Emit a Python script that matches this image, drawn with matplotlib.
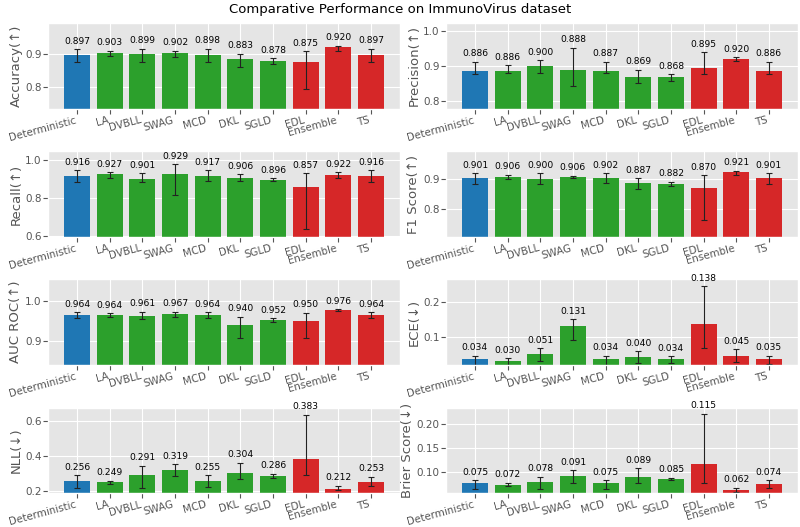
import numpy as np
import matplotlib
matplotlib.use("Agg")
import matplotlib.pyplot as plt
from matplotlib.ticker import MultipleLocator

plt.style.use('ggplot')

metodos = ['Deterministic', 'LA', 'DVBLL', 'SWAG', 'MCD', 'DKL', 'SGLD', 'EDL', 'Ensemble', 'TS']
colores = ['tab:blue'] + ['tab:green'] * 6 + ['tab:red'] * 3

# medias y extremos de las barras de error (abajo / arriba)
acc = [0.897, 0.903, 0.899, 0.902, 0.898, 0.883, 0.878, 0.875, 0.920, 0.897]
acc_lo = [0.876, 0.894, 0.876, 0.890, 0.876, 0.860, 0.870, 0.792, 0.910, 0.876]
acc_hi = [0.914, 0.910, 0.915, 0.910, 0.915, 0.900, 0.886, 0.908, 0.925, 0.915]

prec = [0.886, 0.886, 0.900, 0.888, 0.887, 0.869, 0.868, 0.895, 0.920, 0.886]
prec_lo = [0.878, 0.881, 0.881, 0.843, 0.880, 0.852, 0.857, 0.878, 0.914, 0.878]
prec_hi = [0.912, 0.903, 0.917, 0.952, 0.912, 0.889, 0.877, 0.940, 0.925, 0.912]

rec = [0.916, 0.927, 0.901, 0.929, 0.917, 0.906, 0.896, 0.857, 0.922, 0.916]
rec_lo = [0.886, 0.907, 0.884, 0.819, 0.889, 0.889, 0.889, 0.639, 0.904, 0.886]
rec_hi = [0.947, 0.937, 0.930, 0.979, 0.947, 0.925, 0.905, 0.930, 0.935, 0.947]

f1 = [0.901, 0.906, 0.900, 0.906, 0.902, 0.887, 0.882, 0.870, 0.921, 0.901]
f1_lo = [0.883, 0.900, 0.883, 0.903, 0.885, 0.867, 0.876, 0.762, 0.911, 0.883]
f1_hi = [0.918, 0.914, 0.918, 0.910, 0.918, 0.902, 0.890, 0.911, 0.926, 0.918]

auc = [0.964, 0.964, 0.961, 0.967, 0.964, 0.940, 0.952, 0.950, 0.976, 0.964]
auc_lo = [0.956, 0.959, 0.954, 0.959, 0.956, 0.908, 0.947, 0.907, 0.974, 0.956]
auc_hi = [0.971, 0.968, 0.972, 0.972, 0.971, 0.960, 0.956, 0.970, 0.979, 0.971]

ece = [0.034, 0.030, 0.051, 0.131, 0.034, 0.040, 0.034, 0.138, 0.045, 0.035]
ece_lo = [0.018, 0.018, 0.029, 0.090, 0.018, 0.023, 0.023, 0.066, 0.027, 0.021]
ece_hi = [0.044, 0.037, 0.066, 0.151, 0.044, 0.057, 0.043, 0.247, 0.064, 0.044]

nll = [0.256, 0.249, 0.291, 0.319, 0.255, 0.304, 0.286, 0.383, 0.212, 0.253]
nll_lo = [0.219, 0.238, 0.219, 0.284, 0.223, 0.267, 0.276, 0.290, 0.204, 0.229]
nll_hi = [0.291, 0.259, 0.345, 0.352, 0.291, 0.362, 0.299, 0.634, 0.230, 0.282]

brier = [0.075, 0.072, 0.078, 0.091, 0.075, 0.089, 0.085, 0.115, 0.062, 0.074]
brier_lo = [0.064, 0.069, 0.063, 0.077, 0.064, 0.076, 0.083, 0.075, 0.058, 0.066]
brier_hi = [0.082, 0.077, 0.089, 0.103, 0.082, 0.107, 0.087, 0.221, 0.066, 0.082]

paneles = [
    ('Accuracy(↑)', acc, acc_lo, acc_hi, (0.734, 0.993), 0.1),
    ('Precision(↑)', prec, prec_lo, prec_hi, (0.778, 1.023), 0.1),
    ('Recall(↑)', rec, rec_lo, rec_hi, (0.598, 1.046), 0.2),
    ('F1 Score(↑)', f1, f1_lo, f1_hi, (0.708, 0.991), 0.1),
    ('AUC ROC(↑)', auc, auc_lo, auc_hi, (0.84, 1.0525), 0.1),
    ('ECE(↓)', ece, ece_lo, ece_hi, (0.018, 0.266), 0.1),
    ('NLL(↓)', nll, nll_lo, nll_hi, (0.189, 0.674), 0.2),
    ('Brier Score(↓)', brier, brier_lo, brier_hi, (0.055, 0.234), 0.05),
]

fig, axes = plt.subplots(4, 2, figsize=(8, 5.27), dpi=100)
fig.subplots_adjust(left=0.06, right=0.9975, top=0.956, bottom=0.0645,
                    hspace=0.5, wspace=0.13)
x = np.arange(len(metodos))

for ax, (nombre, media, lo, hi, lim, paso) in zip(axes.flat, paneles):
    media = np.array(media)
    err = [media - np.array(lo), np.array(hi) - media]
    ax.bar(x, media, color=colores, width=0.8, yerr=err,
           error_kw=dict(ecolor='#222222', elinewidth=0.8, capsize=2.2, capthick=0.8))
    # etiquetas de valor encima de la barra de error
    for i in range(len(x)):
        ax.annotate(f'{media[i]:.3f}', (x[i], hi[i]), xytext=(0, 2.5),
                    textcoords='offset points', ha='center', va='bottom',
                    fontsize=6.6, color='black')
    ax.set_ylim(lim)
    ax.yaxis.set_major_locator(MultipleLocator(paso))
    ax.set_ylabel(nombre, fontsize=9.5, color='#555555', labelpad=2)
    ax.set_xticks(x)
    ax.set_xticklabels(metodos, rotation=15, ha='right', fontsize=7.4, color='#555555')
    ax.tick_params(axis='y', labelsize=7.5, labelcolor='#555555', pad=1)
    ax.tick_params(axis='x', pad=1)

fig.suptitle('Comparative Performance on ImmunoVirus dataset', fontsize=9.5, y=0.995)
plt.savefig('out.png', dpi=100)
